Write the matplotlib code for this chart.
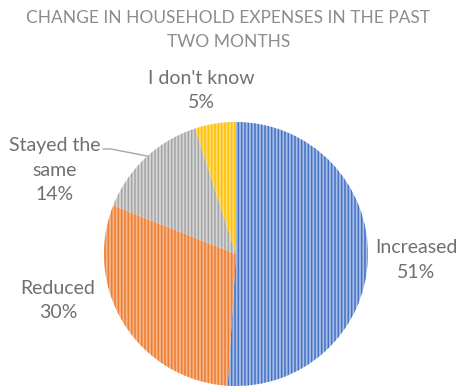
import matplotlib.pyplot as plt

categories = ['Increased', 'Reduced', 'Stayed the\nsame', "I don't know"]
shares = [51, 30, 14, 5]
stripe_colors = ['#4472C4', '#ED7D31', '#A5A5A5', '#FFC000']
fill_colors = ['#A9BEE6', '#F7B58A', '#D6D6D6', '#FFDB73']

plt.rcParams['font.family'] = ['Lato', 'DejaVu Sans']
plt.rcParams['hatch.linewidth'] = 1.1

fig = plt.figure(figsize=(4.57, 3.90), dpi=100)
W, H = 457, 390
# pie placed by pixel box: centre (236, 254), radius 132
r = 132
ax = fig.add_axes([(236 - r) / W, 1 - (254 + r) / H, 2 * r / W, 2 * r / H])

wedges, _ = ax.pie(shares, startangle=90, counterclock=False,
                   colors=fill_colors, radius=1,
                   wedgeprops=dict(linewidth=0))
for w, c in zip(wedges, stripe_colors):
    w.set_hatch('|||||')
    w.set_edgecolor(c)
    w.set_linewidth(0)
ax.set_xlim(-1, 1)
ax.set_ylim(-1, 1)
ax.set_aspect('equal')
ax.axis('off')

fig.text(0.5, 1 - 30 / H, 'CHANGE IN HOUSEHOLD EXPENSES IN THE PAST\nTWO MONTHS',
         ha='center', va='center', fontsize=12.5, color='#8C8C8C', linespacing=1.65)

label_pos = [(416, 260), (58, 300), (55, 170), (201, 91)]
for name, val, (px, py) in zip(categories, shares, label_pos):
    fig.text(px / W, 1 - py / H, f'{name}\n{val}%', ha='center', va='center',
             fontsize=14, color='#707070', linespacing=1.5)

# leader line for the small grey slice
fig.add_artist(plt.Line2D([103 / W, 111 / W, 147 / W],
                          [1 - 149 / H, 1 - 149 / H, 1 - 156 / H],
                          color='#A6A6A6', linewidth=1.0))

fig.savefig('out.png', dpi=100)
